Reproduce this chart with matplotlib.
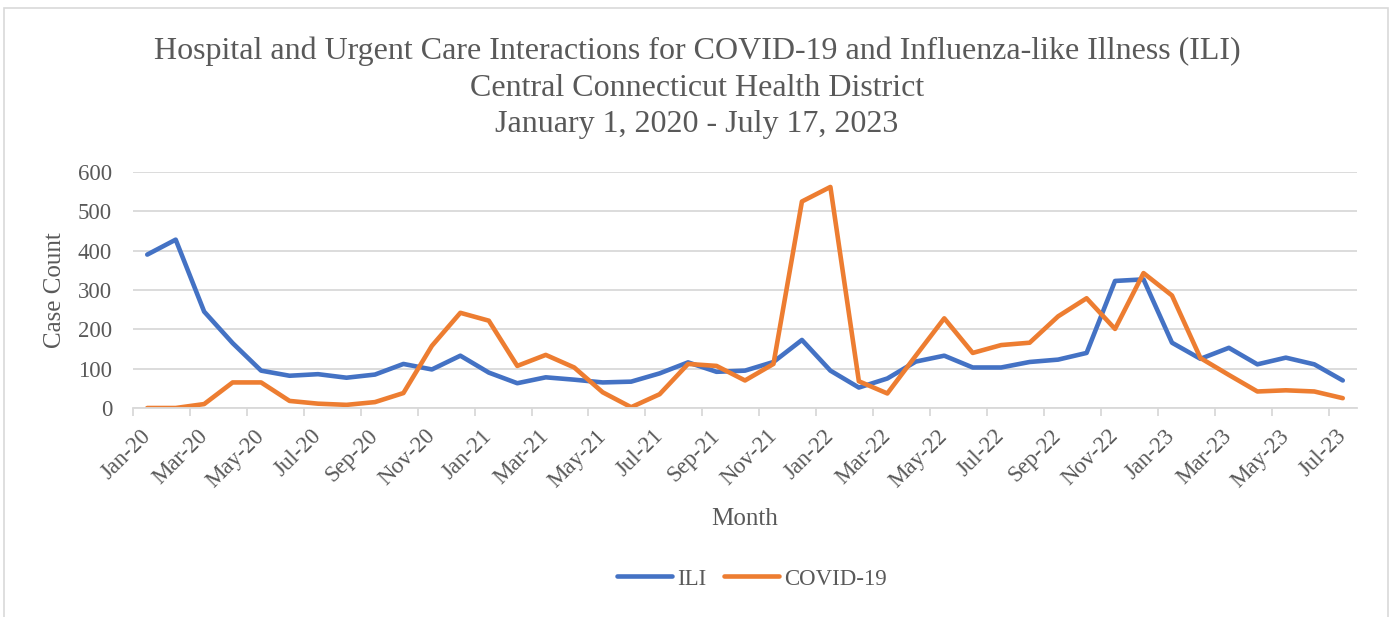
import matplotlib
matplotlib.use('Agg')
import matplotlib.pyplot as plt
from matplotlib.patches import Rectangle

months = ['Jan', 'Feb', 'Mar', 'Apr', 'May', 'Jun',
          'Jul', 'Aug', 'Sep', 'Oct', 'Nov', 'Dec']
labels = [m + '-' + y for y in ['20', '21', '22'] for m in months] + \
         [m + '-23' for m in months[:7]]

ili = [390, 428, 245, 165, 95, 82, 86, 77, 85, 112, 98, 133,
       90, 63, 78, 72, 65, 67, 88, 116, 92, 95, 117, 173,
       95, 52, 75, 118, 133, 103, 103, 117, 123, 140, 323, 327,
       166, 125, 153, 111, 128, 111, 70]
covid = [0, 0, 10, 65, 65, 18, 11, 8, 15, 38, 158, 242,
         222, 107, 135, 103, 40, 2, 35, 112, 107, 70, 112, 525,
         562, 68, 37, 133, 228, 140, 160, 166, 233, 279, 201, 343,
         286, 127, 84, 42, 45, 42, 25]

title_lines = ['Hospital and Urgent Care Interactions for COVID-19 and Influenza-like Illness (ILI)',
               'Central Connecticut Health District',
               'January 1, 2020 - July 17, 2023']

gray = '#595959'
grid = '#D9D9D9'
W, H = 1390, 617

plt.rcParams['font.family'] = ['Liberation Serif', 'DejaVu Serif']

fig = plt.figure(figsize=(W / 100, H / 100), dpi=100)
fig.add_artist(Rectangle((4 / W, -0.01), 1384 / W, 1 - 8 / H + 0.01,
                         transform=fig.transFigure, fill=False,
                         edgecolor=grid, lw=1.2))

# title, one line at a time (baselines in px from top)
for line, base in zip(title_lines, [59, 96, 132]):
    fig.text(697 / W, 1 - base / H, line, ha='center', va='baseline',
             fontsize=23, color=gray)

ax = fig.add_axes([133 / W, 1 - 408 / H, 1224 / W, 236 / H])
x = list(range(len(labels)))
ax.plot(x, ili, color='#4472C4', lw=3.3, label='ILI',
        solid_capstyle='round', solid_joinstyle='round')
ax.plot(x, covid, color='#ED7D31', lw=3.3, label='COVID-19',
        solid_capstyle='round', solid_joinstyle='round')

ax.set_xlim(-0.5, len(labels) - 0.5)
ax.set_ylim(0, 600)
ax.set_yticks(range(0, 601, 100))
ax.yaxis.grid(True, color=grid, lw=1.3)
ax.set_axisbelow(True)
for s in ['top', 'right', 'left']:
    ax.spines[s].set_visible(False)
ax.spines['bottom'].set_color(grid)
ax.spines['bottom'].set_linewidth(1.3)
ax.tick_params(axis='y', length=0, pad=15, labelsize=16.5, labelcolor=gray)

# tick marks between categories, labels on every second category
ax.set_xticks([i - 0.5 for i in range(0, len(labels), 2)])
ax.set_xticklabels([])
ax.tick_params(axis='x', which='major', length=6, color=grid, width=1.3)
ax.set_xticks(x[::2], minor=True)
ax.set_xticklabels(labels[::2], minor=True, rotation=45, ha='right',
                   va='center', rotation_mode='anchor',
                   fontsize=16.5, color=gray)
ax.tick_params(axis='x', which='minor', length=0, pad=18)

fig.text(55 / W, 1 - 290 / H, 'Case Count', rotation=90, ha='center',
         va='center', fontsize=18, color=gray)
fig.text(745 / W, 1 - 519 / H, 'Month', ha='center', va='center',
         fontsize=18, color=gray)

leg = fig.legend(loc='center', bbox_to_anchor=(752 / W, 1 - 579 / H), ncol=2,
                 frameon=False, fontsize=16.5, handlelength=2.4,
                 handletextpad=0.2, columnspacing=0.8)
for t in leg.get_texts():
    t.set_color(gray)

fig.savefig('out.png', dpi=100)
